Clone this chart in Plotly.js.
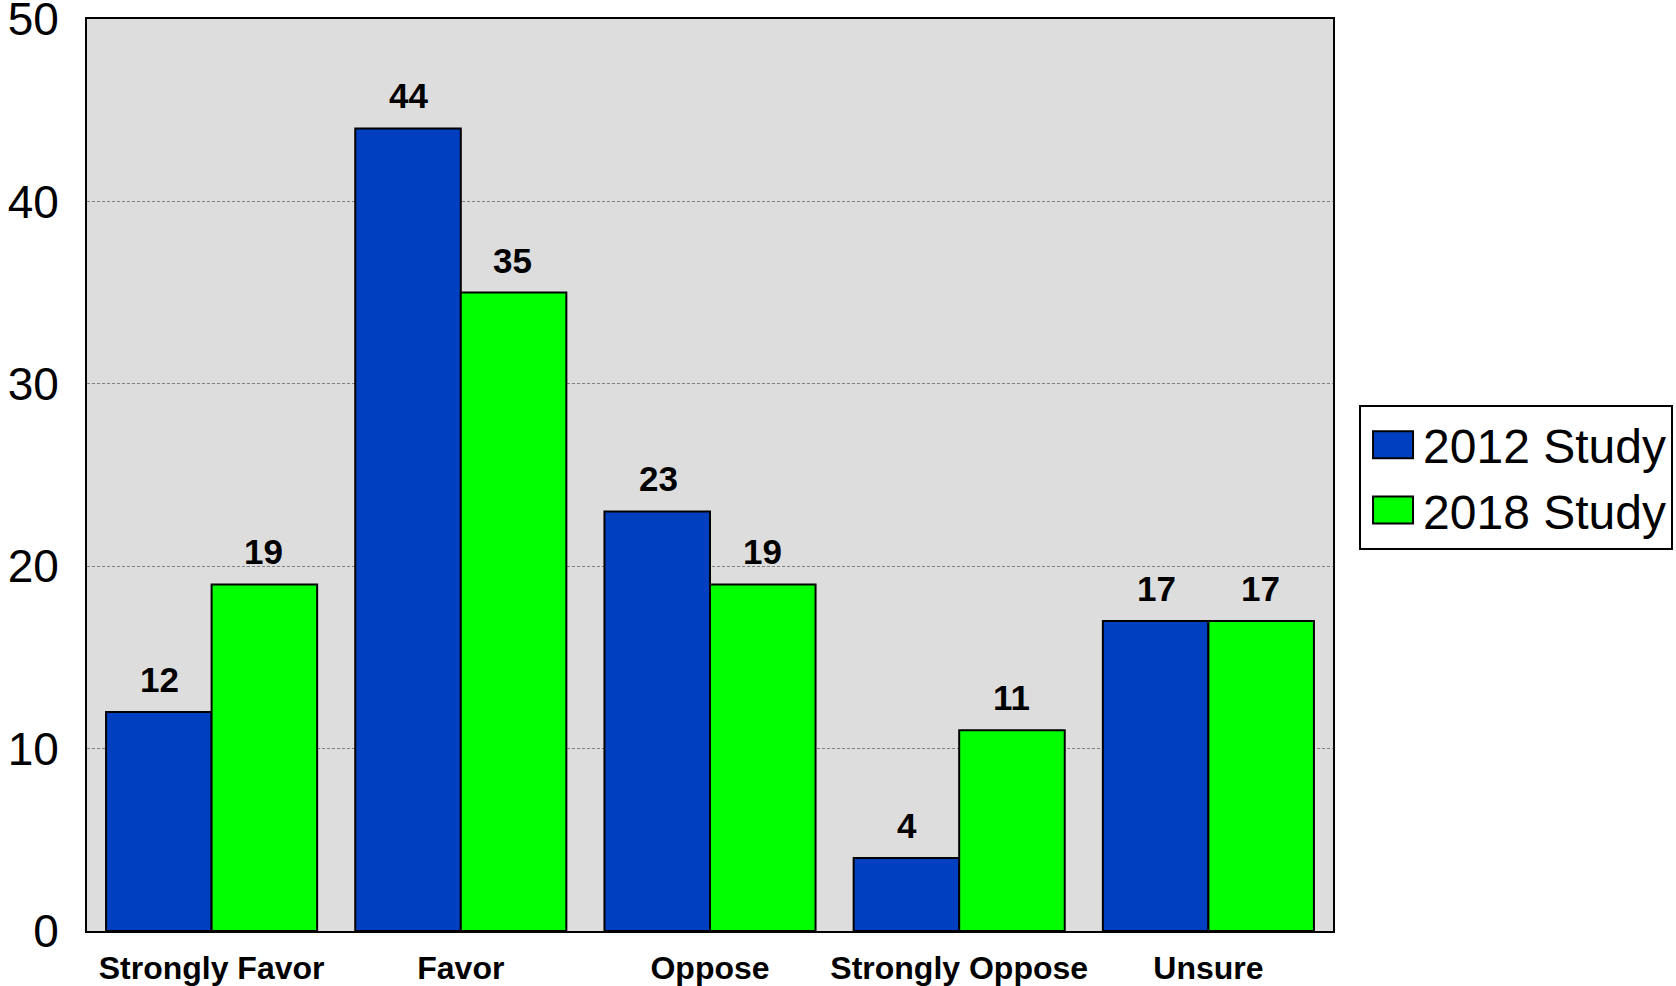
<!DOCTYPE html>
<html>
<head>
<meta charset="utf-8">
<script src="https://cdn.plot.ly/plotly-3.0.1.min.js"></script>
<style>html,body{margin:0;padding:0;background:#fff;}#chart{width:1676px;height:986px;}</style>
</head>
<body>
<div id="chart"></div>
<script>
const categories = ["Strongly Favor", "Favor", "Oppose", "Strongly Oppose", "Unsure"];
const study2012 = [12, 44, 23, 4, 17];
const study2018 = [19, 35, 19, 11, 17];
const seriesNames = ["2012 Study", "2018 Study"];
const yTicks = [0, 10, 20, 30, 40, 50];

const FONT = "Liberation Sans, Arial, sans-serif";

const traces = [
  {type: "bar", name: seriesNames[0], x: categories, y: study2012,
   marker: {color: "#0040C0", line: {color: "#000", width: 2}}, hoverinfo: "none"},
  {type: "bar", name: seriesNames[1], x: categories, y: study2018,
   marker: {color: "#00FF00", line: {color: "#000", width: 2}}, hoverinfo: "none"}
];

const annotations = [];
const shift = 52;
categories.forEach((c, i) => {
  [[study2012, -shift], [study2018, shift]].forEach(([arr, xs]) => {
    annotations.push({x: c, y: arr[i], xref: "x", yref: "y", text: "<b>" + arr[i] + "</b>",
      showarrow: false, xshift: xs, yanchor: "bottom", yshift: 11,
      font: {family: FONT, size: 35, color: "#000"}});
  });
});

const layout = {
  width: 1676, height: 986,
  margin: {l: 87, r: 343, t: 19, b: 55, pad: 0, autoexpand: false},
  paper_bgcolor: "#fff", plot_bgcolor: "#DDDDDD",
  barmode: "group", bargap: 0.153, bargroupgap: 0,
  font: {family: FONT, color: "#000"},
  showlegend: true,
  legend: {x: 1.0209, xanchor: "left", y: 0.5768, yanchor: "top",
    bordercolor: "#000", borderwidth: 2, bgcolor: "#fff",
    font: {family: FONT, size: 48, color: "#000"}, tracegroupgap: 0, itemwidth: 52,
    entrywidth: 320, entrywidthmode: "pixels"},
  xaxis: {type: "category", showline: true, mirror: true, linecolor: "#000", linewidth: 2,
    ticks: "", showgrid: false, tickfont: {family: FONT, size: 32, color: "#000", weight: "bold"},
    ticklabelstandoff: 8, fixedrange: true},
  yaxis: {range: [0, 50], tickvals: yTicks, showline: true, mirror: true, linecolor: "#000", linewidth: 2,
    ticks: "", showgrid: true, gridcolor: "#808080", gridwidth: 1, griddash: "3px,2px", zeroline: false,
    tickfont: {family: FONT, size: 46, color: "#000"}, ticklabelstandoff: 17,
    ticklabeloverflow: "allow", fixedrange: true},
  annotations: annotations
};

Plotly.newPlot("chart", traces, layout, {staticPlot: true, displayModeBar: false}).then(() => {
  document.querySelectorAll(".legend .traces").forEach(g => {
    const t = g.querySelector("text.legendtext");
    const tx = t ? parseFloat(t.getAttribute("x")) || 0 : 40;
    g.querySelectorAll(".legendpoints path").forEach(p => {
      p.removeAttribute("transform");
      p.setAttribute("d", `M${tx - 50},-13.5H${tx - 10}V13.5H${tx - 50}Z`);
    });
  });
});
</script>
</body>
</html>
